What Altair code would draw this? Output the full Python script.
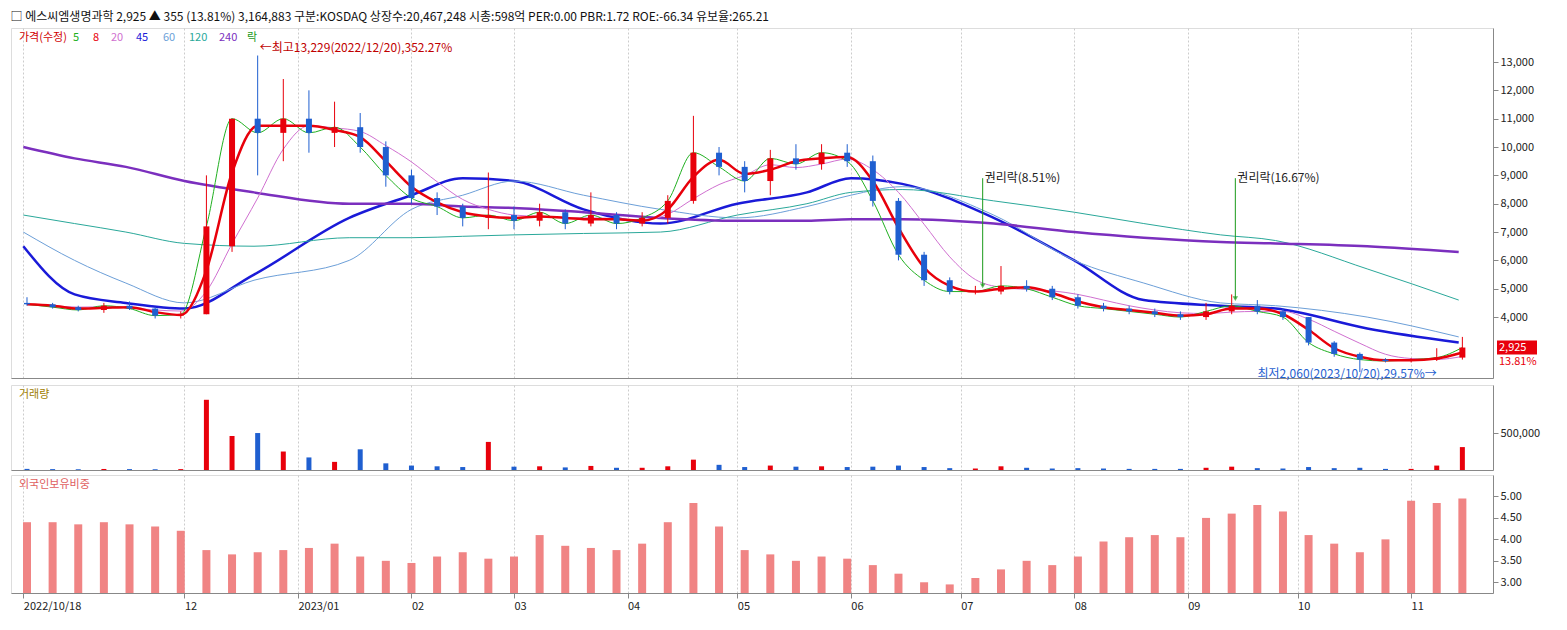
import altair as alt
import pandas as pd

# weekly candles (week starting Monday)
weeks = pd.date_range('2022-10-17', periods=57, freq='7D') + pd.Timedelta(days=2)
opn = [4500,4450,4350,4250,4400,4300,4050,4100,6500,11000,10500,11000,10500,10700,10000,9000,
       8200,7900,7500,7600,7400,7700,7300,7600,7300,7500,8100,9800,9300,8800,9600,9400,9800,
       9500,8100,6200,5300,4900,4900,5100,5000,4700,4400,4300,4200,4100,4000,4200,4400,4200,
       4000,3100,2700,2500,2450,2500,2570]
high = [4700,4500,4400,4500,4550,4350,4200,9000,11000,13229,12400,12000,11600,11200,10200,9200,
        8400,8000,9100,7900,8000,7800,8400,7700,7700,8300,11100,10000,9500,9900,10100,10100,10100,
        9700,8200,6300,5400,5100,5800,5300,5100,4800,4500,4400,4300,4200,4500,4800,4600,4300,
        4000,3150,2750,2550,2550,2900,3300]
low = [4400,4300,4200,4150,4250,3950,3950,4100,6300,9000,9500,9800,10000,9800,8600,8000,
       7600,7200,7100,7100,7200,7100,7200,7100,7200,7300,8000,9000,8400,8300,9200,9200,9300,
       7900,6000,5100,4800,4800,4800,4900,4600,4300,4200,4100,4000,3900,3900,4100,4100,3900,
       3000,2600,2060,2400,2400,2450,2500]
close = [4450,4350,4250,4400,4300,4050,4100,7200,11000,10500,11000,10500,10700,10000,9000,8200,
         7900,7500,7600,7400,7700,7300,7600,7300,7500,8100,9800,9300,8800,9600,9400,9800,9500,
         8100,6200,5300,4900,4900,5100,5000,4700,4400,4300,4200,4100,4000,4200,4400,4200,4000,
         3100,2700,2500,2450,2500,2570,2925]
volume = [15,12,10,14,12,10,12,950,460,500,250,170,110,280,90,60,50,40,380,45,50,35,55,30,30,50,
          140,70,40,60,45,50,40,45,60,40,25,20,50,30,20,25,20,15,15,15,30,45,25,20,40,25,30,15,15,60,310]
foreign = [4.4,4.4,4.35,4.4,4.35,4.3,4.2,3.75,3.65,3.7,3.75,3.8,3.9,3.6,3.5,3.45,3.6,3.7,3.55,3.6,
           4.1,3.85,3.8,3.75,3.9,4.4,4.85,4.3,3.75,3.65,3.5,3.6,3.55,3.4,3.2,3.0,2.95,3.1,3.3,3.5,
           3.4,3.6,3.95,4.05,4.1,4.05,4.5,4.6,4.8,4.65,4.1,3.9,3.7,4.0,4.9,4.85,4.95]

# moving averages
ma_dates = ['2022-10-18','2022-11-01','2022-11-15','2022-12-01','2022-12-20','2023-01-15','2023-02-01',
            '2023-02-15','2023-03-01','2023-03-20','2023-04-10','2023-05-01','2023-05-20','2023-06-01',
            '2023-06-15','2023-07-10','2023-08-01','2023-08-20','2023-09-10','2023-09-25','2023-10-20','2023-11-14']
ma45 = [6500,4800,4500,4300,5500,7500,8300,8900,8800,7800,7300,8000,8400,8900,8700,7500,6000,4600,4400,4300,3600,3100]
ma60 = [7000,6000,5200,4500,5300,6000,7800,8300,8800,8300,7800,7500,7900,8300,8600,7600,6000,5200,4500,4400,4000,3300]
ma120 = [7600,7300,7000,6600,6500,6800,6800,6850,6900,6950,7000,7600,8000,8400,8500,8100,7700,7300,6900,6700,5700,4600]
ma240 = [10000,9600,9300,8800,8400,8000,8000,7900,7850,7700,7500,7400,7400,7450,7450,7300,7000,6800,6650,6600,6500,6300]

df = pd.DataFrame({'date': weeks, 'open': opn, 'high': high, 'low': low, 'close': close,
                   'volume': [v * 1000 for v in volume], 'foreign': foreign})
df['up'] = df['close'] >= df['open']
df['ma8'] = df['close'].rolling(2, min_periods=1).mean()
df['ma20'] = df['close'].rolling(4, min_periods=1).mean()
ma = pd.DataFrame({'date': pd.to_datetime(ma_dates), '45': ma45, '60': ma60, '120': ma120, '240': ma240})

RED, BLUE = '#e8000b', '#1f5fd0'
W = 1482
xdom = [pd.Timestamp('2022-10-16').isoformat(), pd.Timestamp('2023-11-22').isoformat()]
tick_vals = ['2022-10-18'] + [d.strftime('%Y-%m-%d') for d in pd.date_range('2022-12-01', '2023-11-01', freq='MS')]
tick_vals = [alt.DateTime(year=int(t[:4]), month=int(t[5:7]), date=int(t[8:])) for t in tick_vals]

def xenc(show):
    ax = alt.Axis(values=tick_vals, grid=True, gridDash=[2, 2], gridColor='#cccccc', title=None,
                  labels=show, ticks=show, labelAlign='left', labelFontSize=11, labelColor='#222',
                  labelExpr="datum.index == 0 ? '2022/10/18' : (month(datum.value) == 0 ? timeFormat(datum.value, '%Y/%m') : timeFormat(datum.value, '%m'))")
    return alt.X('date:T', scale=alt.Scale(domain=xdom), axis=ax)

price_axis = alt.Axis(orient='right', title=None, values=list(range(4000, 14000, 1000)), format=',.0f',
                      labelFontSize=11, grid=False, labelColor='#222')
pscale = alt.Scale(domain=[1850, 14200])

def py(field):
    return alt.Y(field, scale=pscale, axis=price_axis)

col = alt.condition('datum.up', alt.value(RED), alt.value(BLUE))

base = alt.Chart(df)
wick = base.mark_rule().encode(x=xenc(False), y=py('low:Q'), y2='high:Q', color=col)
body = base.mark_bar(size=6).encode(x=xenc(False), y=py('open:Q'), y2='close:Q', color=col)

ma_long = ma.melt('date', var_name='ma', value_name='v')
ma_colors = alt.Scale(domain=['45', '60', '120', '240'], range=['#1a1ad8', '#6c9fd8', '#2aa89a', '#7b2fbe'])
mlines = alt.Chart(ma_long).mark_line(interpolate='monotone').encode(
    x=xenc(False), y=py('v:Q'), color=alt.Color('ma:N', scale=ma_colors, legend=None),
    strokeWidth=alt.condition("datum.ma == '45' || datum.ma == '240'", alt.value(2.5), alt.value(1)))
ma8 = base.mark_line(color=RED, strokeWidth=2.5, interpolate='monotone').encode(x=xenc(False), y=py('ma8:Q'))
ma20 = base.mark_line(color='#d070d0', strokeWidth=1, interpolate='monotone').encode(x=xenc(False), y=py('ma20:Q'))
ma5 = base.mark_line(color='#20b020', strokeWidth=1, interpolate='monotone').encode(x=xenc(False), y=py('close:Q'))

notes = pd.DataFrame({'date': pd.to_datetime(['2022-12-21', '2023-07-07', '2023-09-14', '2023-11-08']),
                      'y': [13500, 8900, 8900, 2000],
                      'label': ['←최고13,229(2022/12/20),352.27%', '권리락(8.51%)', '권리락(16.67%)', '최저2,060(2023/10/20),29.57%→'],
                      'c': ['#c00000', '#222222', '#222222', '#1f5fd0'],
                      'side': ['l', 'l', 'l', 'r']})
ntext_l = alt.Chart(notes).transform_filter("datum.side == 'l'").mark_text(
    fontSize=12, dx=2, align='left').encode(x=xenc(False), y=py('y:Q'), text='label:N',
                                            color=alt.Color('c:N', scale=None))
ntext_r = alt.Chart(notes).transform_filter("datum.side == 'r'").mark_text(
    fontSize=12, align='right', color='#1f5fd0').encode(x=xenc(False), y=py('y:Q'), text='label:N')
arrows = pd.DataFrame({'date': pd.to_datetime(['2023-07-07', '2023-09-14']), 'y1': [8900, 8900], 'y2': [5100, 4650]})
arule = alt.Chart(arrows).mark_rule(color='#1a9a1a').encode(x=xenc(False), y=py('y1:Q'), y2='y2:Q')
atip = alt.Chart(arrows).mark_point(shape='triangle-down', filled=True, color='#1a9a1a', size=30).encode(
    x=xenc(False), y=py('y2:Q'))

leg = pd.DataFrame({'x': [8, 62, 82, 100, 125, 152, 178, 208, 236],
                    'label': ['가격(수정)', '5', '8', '20', '45', '60', '120', '240', '락'],
                    'c': ['#d00000', '#20b020', RED, '#d070d0', '#1a1ad8', '#6c9fd8', '#2aa89a', '#7b2fbe', '#1a9a1a']})
legend = alt.Chart(leg).mark_text(align='left', fontSize=11).encode(
    x=alt.X('x:Q', scale=None), y=alt.value(10), text='label:N', color=alt.Color('c:N', scale=None))

tag = pd.DataFrame({'y': [2925], 't': ['2,925'], 'p': ['13.81%']})
lastbg = alt.Chart(tag).mark_rect(color=RED, height=14, width=40).encode(x=alt.value(W + 24), y=py('y:Q'))
last = alt.Chart(tag).mark_text(align='left', dx=6, color='white', fontSize=11).encode(
    x=alt.value(W), y=py('y:Q'), text='t:N')
lastp = alt.Chart(tag).mark_text(align='left', dx=6, dy=14, color=RED, fontSize=11).encode(
    x=alt.value(W), y=py('y:Q'), text='p:N')

price = alt.layer(mlines, ma20, ma5, ma8, wick, body, arule, atip, ntext_l, ntext_r, legend,
                  lastbg, last, lastp).properties(width=W, height=350)

vol = alt.layer(
    base.mark_bar(size=5).encode(x=xenc(False), y=alt.Y('volume:Q', scale=alt.Scale(domain=[0, 1150000]),
        axis=alt.Axis(orient='right', title=None, values=[500000], format=',.0f', labelFontSize=11,
                      grid=False, labelColor='#222')), color=col),
    alt.Chart(pd.DataFrame({'t': ['거래량']})).mark_text(align='left', fontSize=11, color='#a08000').encode(
        x=alt.value(8), y=alt.value(10), text='t:N')
).properties(width=W, height=85)

fr = alt.layer(
    base.mark_bar(size=8, color='#f08484').encode(x=xenc(True), y=alt.Y('foreign:Q', scale=alt.Scale(domain=[2.75, 5.5]),
        axis=alt.Axis(orient='right', title=None, values=[3.0, 3.5, 4.0, 4.5, 5.0], format='.2f', labelFontSize=11,
                      grid=False, labelColor='#222')),
        y2=alt.datum(2.75)),
    alt.Chart(pd.DataFrame({'t': ['외국인보유비중']})).mark_text(align='left', fontSize=11, color='#e06060').encode(
        x=alt.value(8), y=alt.value(10), text='t:N')
).properties(width=W, height=118)

chart = alt.vconcat(price, vol, fr, spacing=3).properties(
    title=alt.Title('□ 에스씨엠생명과학  2,925 ▲ 355 (13.81%)  3,164,883  구분:KOSDAQ 상장수:20,467,248 시총:598억 PER:0.00 PBR:1.72 ROE:-66.34 유보율:265.21',
                    anchor='start', fontSize=12, fontWeight='normal', color='#111', offset=4)
).configure_view(stroke='#999').configure(font='Noto Sans CJK KR', padding=2, background='white')

chart.save("out.html", embed_options={"renderer": "svg", "actions": False})
